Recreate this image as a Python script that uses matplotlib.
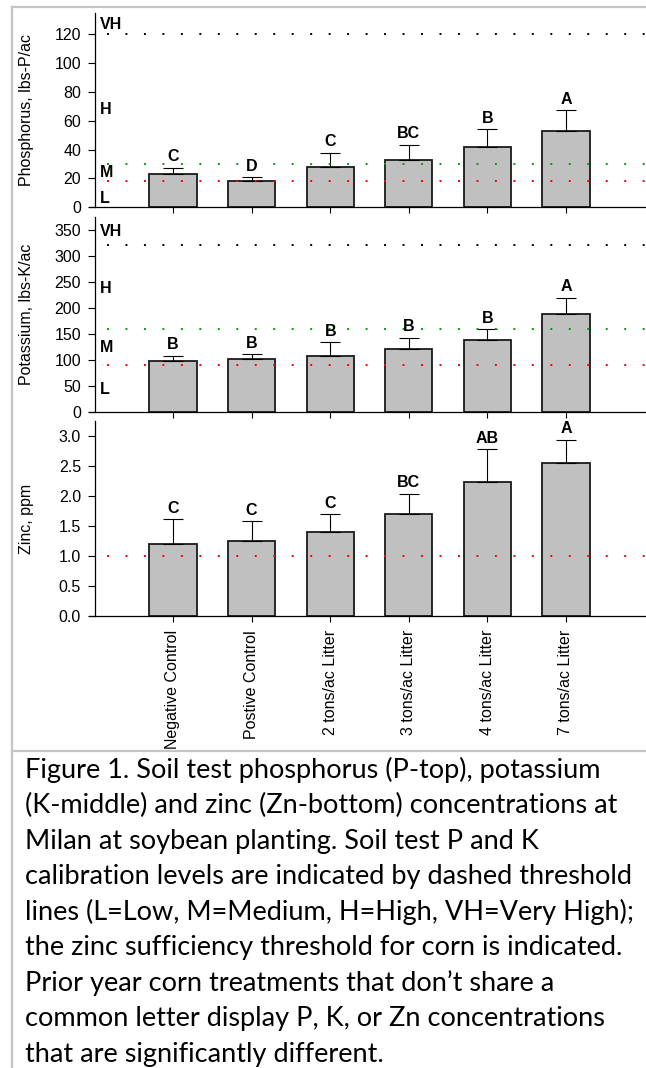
import matplotlib
matplotlib.use('Agg')
import matplotlib.pyplot as plt
import numpy as np
from matplotlib.patches import Rectangle
from matplotlib.lines import Line2D

# ---------------- data ----------------
categories = ["Negative Control", "Postive Control", "2 tons/ac Litter",
              "3 tons/ac Litter", "4 tons/ac Litter", "7 tons/ac Litter"]

p_means = [23, 18, 28, 32.5, 41.5, 53]
p_err = [4.5, 3, 10, 11, 12.5, 14.5]
p_letters = ["C", "D", "C", "BC", "B", "A"]

k_means = [97, 101, 108, 121, 137, 187]
k_err = [11, 10, 26, 21, 22, 32]
k_letters = ["B", "B", "B", "B", "B", "A"]

zn_means = [1.20, 1.25, 1.40, 1.70, 2.23, 2.55]
zn_err = [0.41, 0.33, 0.30, 0.34, 0.55, 0.39]
zn_letters = ["C", "C", "C", "BC", "AB", "A"]

p_thresholds = [18, 30, 120]
k_thresholds = [90, 160, 320]
zn_thresholds = [1.0]

level_names = ["L", "M", "H", "VH"]
p_level_pos = [6, 24, 68, 127]
k_level_pos = [43, 123, 237, 346]

p_ticks = [0, 20, 40, 60, 80, 100, 120]
k_ticks = [0, 50, 100, 150, 200, 250, 300, 350]
zn_ticks = [0.0, 0.5, 1.0, 1.5, 2.0, 2.5, 3.0]

caption_lines = [
    "Figure 1. Soil test phosphorus (P-top), potassium",
    "(K-middle) and zinc (Zn-bottom) concentrations at",
    "Milan at soybean planting. Soil test P and K",
    "calibration levels are indicated by dashed threshold",
    "lines (L=Low, M=Medium, H=High, VH=Very High);",
    "the zinc sufficiency threshold for corn is indicated.",
    "Prior year corn treatments that don\u2019t share a",
    "common letter display P, K, or Zn concentrations",
    "that are significantly different.",
]

# ---------------- figure ----------------
W, H = 646, 1068
fig = plt.figure(figsize=(W / 100, H / 100), dpi=100)
fig.patch.set_facecolor('white')
plt.rcParams['font.family'] = ['Liberation Sans', 'DejaVu Sans']

FS = 11.5
ax_left_px, ax_right_px = 89, 646
x0_px, step_px = 173, 78.6
yaxis_px = 95


def px_rect(top, bottom):
    return [ax_left_px / W, 1 - bottom / H, (ax_right_px - ax_left_px) / W, (bottom - top) / H]


panels = [
    dict(rect=px_rect(12.7, 207.3), means=p_means, err=p_err, letters=p_letters,
         ylim=(0, 135), ticks=p_ticks, fmt="{:g}", ylabel="Phosphorus, lbs-P/ac",
         thr=p_thresholds, colors=["#ff0000", "#00a000", "#000000"], levels=p_level_pos),
    dict(rect=px_rect(216.7, 411.7), means=k_means, err=k_err, letters=k_letters,
         ylim=(0, 375), ticks=k_ticks, fmt="{:g}", ylabel="Potassium, lbs-K/ac",
         thr=k_thresholds, colors=["#ff0000", "#00a000", "#000000"], levels=k_level_pos),
    dict(rect=px_rect(421, 616), means=zn_means, err=zn_err, letters=zn_letters,
         ylim=(0, 3.25), ticks=zn_ticks, fmt="{:.1f}", ylabel="Zinc, ppm",
         thr=zn_thresholds, colors=["#ff0000"], levels=None),
]

x = np.arange(len(categories))
xlim = ((ax_left_px - x0_px) / step_px, (ax_right_px - x0_px) / step_px)
yaxis_data = (yaxis_px - x0_px) / step_px

for i, pn in enumerate(panels):
    ax = fig.add_axes(pn['rect'])
    ax.set_xlim(*xlim)
    ax.set_ylim(*pn['ylim'])
    for s in ['top', 'right']:
        ax.spines[s].set_visible(False)
    ax.spines['left'].set_position(('data', yaxis_data))
    for s in ['left', 'bottom']:
        ax.spines[s].set_linewidth(0.9)

    # thresholds
    for val, col in zip(pn['thr'], pn['colors']):
        ax.hlines(val, -0.84, xlim[1] + 0.1, colors=col, linewidth=1.4,
                  linestyles=[(0, (1, 8.5))], zorder=3)

    means = np.array(pn['means'])
    err = np.array(pn['err'])
    ax.bar(x, means, width=0.6, color='#c0c0c0', edgecolor='#1a1a1a',
           linewidth=1.3, zorder=2)
    ax.errorbar(x, means, yerr=[np.zeros_like(err), err], fmt='none',
                ecolor='black', elinewidth=0.8, capsize=7.5, capthick=0.8, zorder=2.5)
    for xi, top, lab in zip(x, means + err, pn['letters']):
        ax.annotate(lab, (xi, top), xytext=(0, 2.5), textcoords='offset points',
                    ha='center', va='bottom', fontsize=FS, fontweight='bold')

    if pn['levels'] is not None:
        for name, pos in zip(level_names, pn['levels']):
            ax.text(-0.93, pos, name, ha='left', va='center', fontsize=FS,
                    fontweight='bold')

    ax.set_yticks(pn['ticks'])
    ax.set_yticklabels([pn['fmt'].format(t) for t in pn['ticks']])
    ax.tick_params(axis='y', direction='out', length=5, width=0.8, pad=5,
                   labelsize=FS)
    ax.set_xticks(x)
    ax.tick_params(axis='x', direction='out', length=4, width=0.8, pad=6,
                   labelsize=FS)
    if i < 2:
        ax.set_xticklabels([])
    else:
        ax.set_xticklabels(categories, rotation=90, va='top', ha='center')

    ax.set_ylabel(pn['ylabel'], fontsize=FS)
    ax.yaxis.set_label_coords((34 - ax_left_px) / (ax_right_px - ax_left_px), 0.5)
    ax.patch.set_alpha(0)

# ---------------- frame & caption box ----------------
frame_col = '#c4c4c4'
sep_y = 751
fig.patches.append(Rectangle((12 / W, 0), 1 - 12 / W, 1 - sep_y / H,
                             transform=fig.transFigure, facecolor='white',
                             edgecolor='none', zorder=5))
for (xa, ya), (xb, yb) in [((12, 7.3), (W, 7.3)), ((12.3, 7.3), (12.3, H)),
                           ((12, sep_y), (W, sep_y))]:
    fig.lines.append(Line2D([xa / W, xb / W], [1 - ya / H, 1 - yb / H],
                            transform=fig.transFigure, color=frame_col,
                            linewidth=1.6, zorder=6))

# caption text, fitted to the reference line width
renderer = fig.canvas.get_renderer()
probe = fig.text(0, 0, caption_lines[3], fontsize=16, family=['Lato', 'DejaVu Sans'])
wpx = probe.get_window_extent(renderer).width
probe.remove()
cap_fs = 16 * (637 - 25) / wpx

base0, line_gap = 778, 35.45
for j, line in enumerate(caption_lines):
    fig.text(25 / W, 1 - (base0 + j * line_gap) / H, line, fontsize=cap_fs,
             family=['Lato', 'DejaVu Sans'], va='baseline', ha='left', zorder=7)

fig.savefig('out.png', dpi=100, facecolor='white')
